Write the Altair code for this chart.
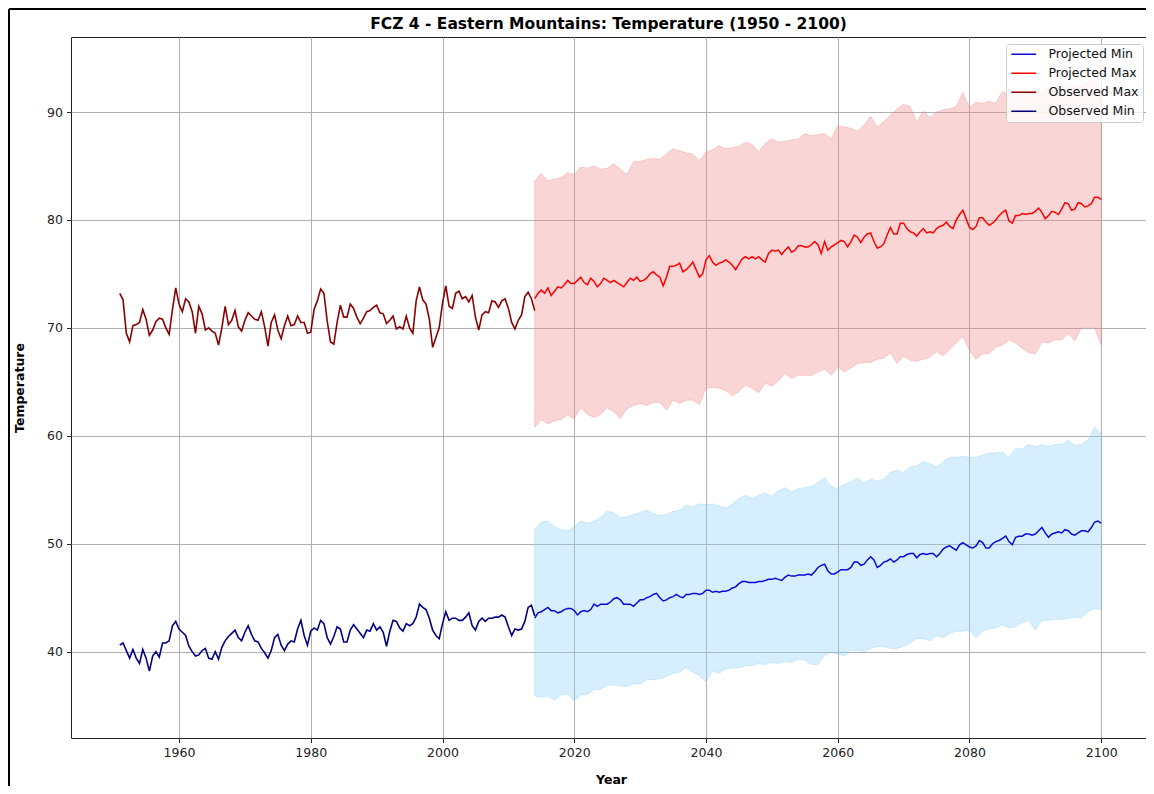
import altair as alt
import pandas as pd

# ---------------- data ----------------
OBS_START = 1951.0      # observed series start, half-year steps
PROJ_START = 2014.0     # projected series start, half-year steps
LINE_STEP = 0.5
BAND_START = 2014       # projection envelope, yearly steps
BAND_STEP = 1

observed_max = [
    73.2, 72.6, 69.5, 68.7, 70.2, 70.3, 70.5, 71.7, 70.8, 69.3, 69.8, 70.6, 70.9, 70.8, 70.0, 69.4, 71.7, 73.7,
    72.2, 71.5, 72.7, 72.4, 71.5, 69.5, 72.0, 71.3, 69.8, 70.0, 69.7, 69.5, 68.4, 70.0, 72.0, 70.3, 70.7, 71.6, 70.1, 69.7,
    70.7, 71.4, 71.1, 70.8, 70.7, 71.5, 70.1, 68.3, 70.5, 71.2, 69.8, 69.0, 70.2, 71.1, 70.2, 70.3, 71.1, 70.5, 70.5, 69.5,
    69.6, 71.7, 72.5, 73.6, 73.2, 70.6, 68.7, 68.5, 70.5, 72.1, 71.0, 71.0, 72.2, 71.8, 71.0, 70.4, 70.9, 71.5, 71.6, 71.9,
    72.1, 71.4, 71.3, 70.4, 70.7, 71.1, 69.9, 70.1, 69.9, 71.1, 70.0, 69.5, 72.5, 73.8, 72.6, 72.2, 70.8, 68.2, 69.1, 70.0,
    72.3, 73.9, 72.0, 71.8, 73.2, 73.4, 72.7, 72.9, 72.4, 73.0, 71.0, 69.8, 71.2, 71.5, 71.4, 72.5, 72.4, 71.9, 72.5, 72.7,
    71.8, 70.5, 69.9, 70.7, 71.2, 72.9, 73.3, 72.7, 71.6,
]

observed_min = [
    40.6, 40.8, 40.1, 39.4, 40.2, 39.4, 38.9, 40.2, 39.4, 38.2, 39.6, 40.0, 39.5, 40.8, 40.8, 41.0, 42.4, 42.8,
    42.1, 41.8, 41.5, 40.5, 40.0, 39.6, 39.7, 40.1, 40.3, 39.4, 39.3, 40.0, 39.3, 40.4, 41.0, 41.4, 41.7, 42.0, 41.3, 41.0,
    41.8, 42.4, 41.6, 41.0, 40.9, 40.3, 39.9, 39.4, 40.1, 41.3, 41.6, 40.6, 40.1, 40.7, 41.0, 40.9, 42.1, 42.9, 41.5, 40.6,
    41.9, 42.2, 42.0, 42.9, 42.6, 41.3, 40.7, 41.4, 42.3, 42.1, 40.9, 40.9, 42.0, 42.5, 42.1, 41.7, 41.3, 42.0, 41.9, 42.6,
    42.0, 42.3, 41.8, 40.5, 41.9, 42.9, 42.8, 42.2, 41.9, 42.6, 42.4, 42.6, 43.2, 44.4, 44.1, 43.9, 43.1, 42.0, 41.5, 41.2,
    42.6, 43.7, 42.9, 43.1, 43.1, 42.9, 42.9, 43.2, 43.6, 42.4, 42.0, 42.8, 43.1, 42.8, 43.1, 43.1, 43.2, 43.2, 43.4, 43.2,
    42.3, 41.5, 42.1, 42.0, 42.1, 42.8, 44.1, 44.3, 43.3,
]

projected_max = [
    72.7, 73.2, 73.5, 73.2, 73.7, 73.0, 73.4, 73.8, 73.7, 74.0, 74.4, 74.1,
    74.1, 74.4, 74.7, 74.2, 74.0, 74.6, 74.3, 73.8, 74.1, 74.6, 74.4, 74.2, 74.4, 74.2, 74.0, 73.8, 74.2, 74.6, 74.4, 74.7,
    74.3, 74.4, 74.6, 75.0, 75.2, 74.9, 74.7, 73.9, 74.7, 75.7, 75.7, 75.8, 76.0, 75.2, 75.4, 75.7, 76.1, 75.4, 74.7, 75.0,
    76.3, 76.7, 76.1, 75.8, 76.0, 76.1, 76.3, 76.1, 75.8, 75.4, 75.9, 76.4, 76.6, 76.4, 76.6, 76.4, 76.6, 76.3, 76.1, 76.9,
    77.2, 77.1, 77.2, 76.8, 77.2, 77.5, 77.0, 77.2, 77.6, 77.6, 77.5, 77.5, 77.7, 78.0, 77.7, 76.9, 78.0, 77.2, 77.5, 77.7,
    77.9, 78.1, 78.0, 77.5, 78.0, 78.6, 78.4, 77.9, 78.4, 78.7, 78.8, 78.0, 77.4, 77.5, 77.8, 78.6, 79.3, 78.7, 78.7, 79.7,
    79.7, 79.2, 78.9, 78.8, 78.5, 78.9, 79.2, 78.8, 78.9, 78.8, 79.2, 79.4, 79.5, 79.8, 79.4, 79.2, 80.0, 80.5, 80.9, 80.1,
    79.3, 79.1, 79.4, 80.2, 80.2, 79.8, 79.5, 79.7, 80.0, 80.4, 80.7, 80.9, 79.9, 79.7, 80.4, 80.4, 80.6, 80.5, 80.6, 80.6,
    80.8, 81.1, 80.7, 80.1, 80.4, 80.8, 80.7, 80.5, 81.0, 81.6, 81.5, 80.9, 81.0, 81.6, 81.5, 81.2, 81.3, 81.5, 82.1, 82.1,
    81.9,
]

projected_min = [
    43.1, 43.6, 43.7, 43.9, 44.1, 43.8, 43.8, 43.6, 43.7, 43.9, 44.0, 44.0,
    43.8, 43.4, 43.7, 43.8, 43.7, 43.9, 44.4, 44.2, 44.4, 44.4, 44.4, 44.6, 44.9, 45.0, 44.8, 44.4, 44.4, 44.4, 44.2, 44.5,
    44.8, 44.8, 45.0, 45.1, 45.3, 45.4, 45.0, 44.7, 44.8, 45.0, 45.1, 45.3, 45.1, 45.0, 45.3, 45.3, 45.4, 45.4, 45.3, 45.4,
    45.7, 45.7, 45.5, 45.6, 45.5, 45.6, 45.6, 45.7, 45.9, 46.0, 46.3, 46.5, 46.5, 46.4, 46.4, 46.4, 46.5, 46.5, 46.6, 46.7,
    46.7, 46.8, 46.7, 46.6, 46.9, 47.1, 47.0, 47.0, 47.1, 47.1, 47.1, 47.2, 47.1, 47.4, 47.8, 48.0, 48.1, 47.5, 47.2, 47.2,
    47.4, 47.6, 47.6, 47.6, 47.8, 48.3, 48.3, 48.0, 48.1, 48.5, 48.8, 48.5, 47.8, 48.0, 48.3, 48.4, 48.6, 48.3, 48.5, 48.8,
    48.8, 49.0, 49.1, 49.1, 48.7, 49.0, 49.1, 49.0, 49.1, 49.1, 48.8, 49.1, 49.5, 49.7, 49.8, 49.6, 49.4, 49.9, 50.1, 49.9,
    49.7, 49.6, 49.8, 50.3, 50.1, 49.6, 49.6, 50.0, 50.2, 50.3, 50.5, 50.7, 50.2, 49.9, 50.6, 50.7, 50.7, 50.9, 50.9, 50.8,
    50.9, 51.2, 51.5, 51.0, 50.6, 50.9, 51.0, 51.1, 51.0, 51.3, 51.2, 50.9, 50.8, 51.0, 51.2, 51.2, 51.1, 51.5, 52.0, 52.1,
    51.9,
]

max_band_upper = [
    83.6, 84.3, 83.6, 83.8, 83.9, 84.4,
    84.2, 84.9, 84.8, 85.0, 84.7, 84.8, 85.2, 84.7, 84.2, 85.4,
    85.4, 85.6, 85.7, 85.6, 86.1, 86.6, 86.4, 86.2, 86.1, 85.5,
    86.3, 86.5, 86.9, 86.6, 86.7, 86.8, 87.2, 87.0, 86.3, 87.1,
    87.5, 87.2, 87.3, 87.4, 87.5, 88.0, 87.8, 87.9, 88.0, 87.5,
    88.7, 88.6, 88.5, 88.2, 88.8, 89.6, 88.6, 89.1, 89.7, 90.3,
    90.7, 90.5, 89.1, 90.1, 89.5, 90.0, 90.2, 90.3, 90.5, 91.8,
    90.4, 90.9, 90.8, 91.0, 90.8, 91.9, 91.5, 92.0, 91.6, 91.8,
    92.2, 91.9, 92.3, 92.0, 92.4, 92.6, 92.2, 92.5, 92.8, 93.0,
    92.0,
]

max_band_lower = [
    60.8, 61.5, 61.1, 61.4, 61.5, 61.9,
    61.6, 62.6, 62.0, 61.7, 62.0, 62.6, 62.2, 61.6, 62.5, 62.8,
    63.0, 62.8, 63.1, 63.1, 62.4, 63.3, 63.0, 63.3, 63.3, 62.9,
    64.4, 64.5, 64.4, 64.2, 63.7, 64.1, 64.7, 64.4, 64.0, 64.9,
    64.6, 65.1, 65.8, 65.3, 65.6, 65.6, 65.6, 65.9, 66.2, 65.6,
    66.4, 65.9, 66.3, 66.7, 66.8, 66.8, 67.1, 67.2, 67.7, 66.7,
    67.4, 67.0, 66.9, 67.1, 67.3, 67.8, 67.4, 68.0, 68.6, 69.2,
    67.9, 67.1, 67.6, 67.6, 68.2, 68.4, 68.9, 68.6, 68.1, 67.7,
    67.6, 68.7, 68.6, 68.9, 68.9, 69.5, 68.8, 70.0, 70.0, 70.0,
    68.4,
]

min_band_upper = [
    51.3, 52.0, 52.1, 51.6, 51.3, 51.2,
    51.6, 52.1, 51.9, 52.1, 52.4, 53.0, 52.9, 52.4, 52.5, 52.7,
    52.9, 53.1, 52.8, 52.6, 52.7, 53.0, 53.1, 53.6, 53.4, 53.7,
    53.6, 53.7, 53.5, 53.3, 53.7, 54.2, 54.5, 54.2, 54.5, 54.7,
    54.4, 54.9, 55.2, 54.8, 55.1, 55.2, 55.3, 55.7, 56.1, 55.3,
    55.1, 55.5, 55.7, 56.1, 55.6, 56.0, 55.8, 56.0, 56.6, 56.8,
    56.6, 57.1, 57.2, 57.6, 57.4, 57.1, 57.6, 58.0, 58.0, 58.1,
    58.0, 58.0, 58.2, 58.4, 58.4, 58.5, 58.0, 58.8, 58.8, 59.2,
    59.0, 59.2, 59.0, 59.2, 59.2, 59.6, 59.1, 59.2, 59.6, 60.8,
    60.2,
]

min_band_lower = [
    35.9, 35.8, 35.9, 35.5, 36.0, 36.1,
    35.4, 36.0, 36.0, 36.5, 36.5, 36.9, 36.9, 36.8, 36.8, 37.0,
    37.0, 37.4, 37.4, 37.5, 37.7, 38.0, 38.1, 38.5, 38.1, 37.8,
    37.2, 38.2, 38.0, 38.4, 38.5, 38.5, 38.7, 38.7, 38.9, 38.8,
    39.0, 38.9, 39.1, 39.0, 39.3, 39.2, 38.8, 38.8, 39.7, 39.9,
    39.8, 39.6, 40.1, 40.1, 40.0, 40.3, 40.5, 40.5, 40.3, 40.3,
    40.5, 40.8, 41.2, 41.2, 41.0, 41.5, 41.3, 41.7, 41.9, 41.9,
    42.0, 41.3, 41.9, 42.1, 42.2, 42.5, 42.2, 42.3, 42.7, 42.9,
    42.0, 42.9, 42.9, 43.0, 43.0, 43.1, 43.2, 43.1, 43.7, 44.0,
    43.9,
]

series_names = ["Projected Min", "Projected Max", "Observed Max", "Observed Min"]
series_colors = ["#0a0ad8", "#ff0000", "#8b0000", "#000080"]
x_tick_values = [1960, 1980, 2000, 2020, 2040, 2060, 2080, 2100]
y_tick_values = [40, 50, 60, 70, 80, 90]
title_text = "FCZ 4 - Eastern Mountains: Temperature (1950 - 2100)"


# ---------------- tables ----------------
def line_frame(name, start, values):
    return pd.DataFrame({
        "Year": [start + LINE_STEP * i for i in range(len(values))],
        "Temperature": values,
        "Series": name,
    })


def band_frame(lower, upper):
    return pd.DataFrame({
        "Year": [BAND_START + BAND_STEP * i for i in range(len(lower))],
        "Low": lower,
        "High": upper,
    })


proj_df = pd.concat([
    line_frame("Projected Min", PROJ_START, projected_min),
    line_frame("Projected Max", PROJ_START, projected_max),
])
obs_df = pd.concat([
    line_frame("Observed Max", OBS_START, observed_max),
    line_frame("Observed Min", OBS_START, observed_min),
])
band_max_df = band_frame(max_band_lower, max_band_upper)
band_min_df = band_frame(min_band_lower, min_band_upper)

# ---------------- layout ----------------
FONT = "DejaVu Sans"
PLOT_W, PLOT_H = 1075, 701
PAD = {"left": 63, "top": 29, "right": 0, "bottom": 48}

x_scale = alt.Scale(domain=[1943.6, 2106.8], nice=False, zero=False)
y_scale = alt.Scale(domain=[32.0, 96.95], nice=False, zero=False)

x_axis = alt.Axis(values=x_tick_values, format="d", title="Year",
                  titleX=540, titleY=45, titleAlign="center", titleBaseline="alphabetic")
y_axis = alt.Axis(values=y_tick_values, format="d", title="Temperature",
                  titleX=-52, titleY=350.5, titleAngle=270, titleAlign="center",
                  titleBaseline="middle")

legend = alt.Legend(
    title=None, orient="none", legendX=935, legendY=7,
    symbolType="M-1,0L4,0", symbolSize=100, symbolStrokeWidth=1.5,
    labelOffset=26, labelFontSize=12.5, labelFont=FONT, labelColor="#111111",
    rowPadding=6, padding=4, fillColor="rgba(255,255,255,0.8)",
    strokeColor="#cccccc", cornerRadius=3, labelLimit=300,
)
color_enc = alt.Color("Series:N", scale=alt.Scale(domain=series_names, range=series_colors),
                      legend=legend)

band_max = alt.Chart(band_max_df).mark_area(
    fill="lightcoral", fillOpacity=0.33, stroke="lightcoral", strokeOpacity=0.33, strokeWidth=1
).encode(
    x=alt.X("Year:Q", scale=x_scale, axis=x_axis),
    y=alt.Y("Low:Q", scale=y_scale, axis=y_axis),
    y2="High:Q",
)

band_min = alt.Chart(band_min_df).mark_area(
    fill="lightskyblue", fillOpacity=0.34, stroke="lightskyblue", strokeOpacity=0.34, strokeWidth=1
).encode(
    x=alt.X("Year:Q", scale=x_scale, axis=x_axis),
    y=alt.Y("Low:Q", scale=y_scale, axis=y_axis),
    y2="High:Q",
)

proj_lines = alt.Chart(proj_df).mark_line(strokeWidth=1.5).encode(
    x=alt.X("Year:Q", scale=x_scale, axis=x_axis),
    y=alt.Y("Temperature:Q", scale=y_scale, axis=y_axis),
    color=color_enc,
    detail="Series:N",
)

obs_lines = alt.Chart(obs_df).mark_line(strokeWidth=1.6).encode(
    x=alt.X("Year:Q", scale=x_scale, axis=x_axis),
    y=alt.Y("Temperature:Q", scale=y_scale, axis=y_axis),
    color=color_enc,
    detail="Series:N",
)

# decorative figure border (left and top edges of the picture frame)
frame_df = pd.DataFrame({"edge": ["frame"]})
frame_left = alt.Chart(frame_df).mark_rule(color="#000000", strokeWidth=2).encode(
    x=alt.value(-62), y=alt.value(-28), y2=alt.value(PLOT_H + PAD["bottom"]),
)
frame_top = alt.Chart(frame_df).mark_rule(color="#000000", strokeWidth=2).encode(
    x=alt.value(-62), x2=alt.value(PLOT_W), y=alt.value(-28),
)

chart = alt.layer(band_max, band_min, proj_lines, obs_lines, frame_left, frame_top).properties(
    width=PLOT_W,
    height=PLOT_H,
    autosize=alt.AutoSizeParams(type="none"),
    padding=PAD,
    title=alt.TitleParams(
        text=title_text, font=FONT, fontSize=15.5, fontWeight="bold", color="#000000",
        anchor="middle", frame="group", baseline="alphabetic", offset=9, dy=45,
    ),
).configure_view(
    stroke="#222222", strokeWidth=1,
).configure_axis(
    domain=False,
    grid=True, gridColor="#b0b0b0", gridWidth=1,
    ticks=True, tickColor="#222222", tickSize=4.5, tickWidth=1,
    labelFont=FONT, labelFontSize=12.5, labelColor="#222222", labelPadding=4,
    titleFont=FONT, titleFontSize=12.5, titleFontWeight="bold", titleColor="#000000",
)

chart.save("out.html", embed_options={"renderer": "svg", "actions": False})
